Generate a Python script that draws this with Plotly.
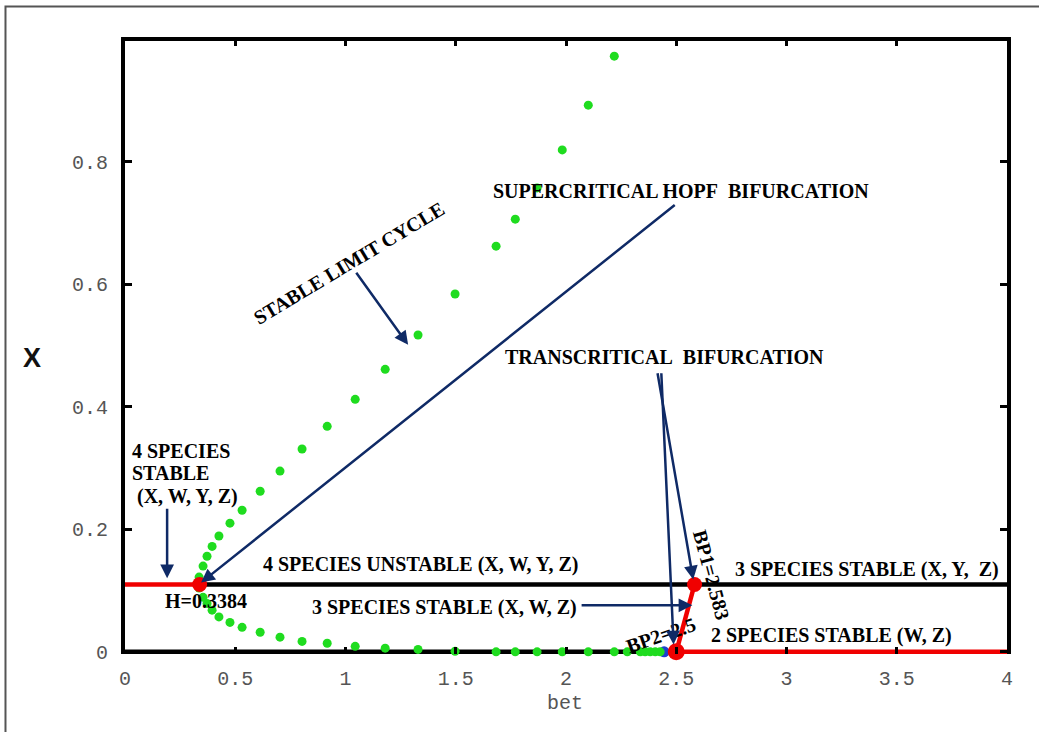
import plotly.graph_objects as go

# ---------------- data ----------------
# limit cycle (max / min of X over the cycle)
lc_bet_max = [0.336, 0.354, 0.372, 0.395, 0.426, 0.476, 0.531, 0.613, 0.703, 0.803, 0.917,
              1.044, 1.180, 1.329, 1.497, 1.683, 1.770, 1.869, 1.983, 2.101, 2.219]
lc_max = [0.122, 0.140, 0.156, 0.172, 0.189, 0.210, 0.231, 0.262, 0.295, 0.331, 0.368,
          0.412, 0.461, 0.517, 0.584, 0.662, 0.706, 0.757, 0.819, 0.892, 0.972]
lc_bet_min = lc_bet_max + [2.278, 2.337, 2.359, 2.382, 2.405, 2.427]
lc_min = [0.104, 0.089, 0.079, 0.068, 0.057, 0.048, 0.040, 0.032, 0.024, 0.017, 0.014,
          0.009, 0.006, 0.004, 0.001, 0.0, 0.0, 0.0, 0.0, 0.0, 0.0,
          0.0, 0.0, 0.0, 0.0, 0.0, 0.0]

# equilibrium branches
stable4_bet = [0.0, 0.3384]
stable4_x = [0.11, 0.11]
unstable4_bet = [0.3384, 4.0]
unstable4_x = [0.11, 0.11]
stable3_bet = [2.5, 2.583]
stable3_x = [0.0, 0.11]
zero_unstable_bet = [0.0, 2.5]
zero_unstable_x = [0.0, 0.0]
zero_stable_bet = [2.5, 4.0]
zero_stable_x = [0.0, 0.0]

# special points
H_bet, H_x = 0.3384, 0.11
BP1_bet, BP1_x = 2.583, 0.11
BP2_bet, BP2_x = 2.5, 0.0
lc_end_bet, lc_end_x = 2.445, 0.0

x_ticks = [0, 0.5, 1, 1.5, 2, 2.5, 3, 3.5, 4]
x_ticktext = ["0", "0.5", "1", "1.5", "2", "2.5", "3", "3.5", "4"]
y_ticks = [0, 0.2, 0.4, 0.6, 0.8]
y_ticktext = ["0", "0.2", "0.4", "0.6", "0.8"]

# ---------------- styles ----------------
RED = "#f00000"
GREEN = "#1fdc1f"
NAVY = "#0f2a66"
LW = 4.5
TXT = dict(family="Liberation Serif", size=20, color="black", weight="bold")
TICKFONT = dict(family="Liberation Mono", size=20, color="#555")

fig = go.Figure()

fig.add_trace(go.Scatter(x=zero_unstable_bet, y=zero_unstable_x, mode="lines",
                         line=dict(color="black", width=LW), cliponaxis=False))
fig.add_trace(go.Scatter(x=unstable4_bet, y=unstable4_x, mode="lines",
                         line=dict(color="black", width=LW)))
fig.add_trace(go.Scatter(x=stable4_bet, y=stable4_x, mode="lines",
                         line=dict(color=RED, width=LW)))
fig.add_trace(go.Scatter(x=zero_stable_bet, y=zero_stable_x, mode="lines",
                         line=dict(color=RED, width=LW)))
fig.add_trace(go.Scatter(x=stable3_bet, y=stable3_x, mode="lines",
                         line=dict(color=RED, width=LW)))

fig.add_trace(go.Scatter(x=[lc_end_bet], y=[lc_end_x], mode="markers",
                         marker=dict(color="#1c3fd0", size=11), cliponaxis=False))
fig.add_trace(go.Scatter(x=lc_bet_max, y=lc_max, mode="markers",
                         marker=dict(color=GREEN, size=9), cliponaxis=False))
fig.add_trace(go.Scatter(x=lc_bet_min, y=lc_min, mode="markers",
                         marker=dict(color=GREEN, size=9), cliponaxis=False))

fig.add_trace(go.Scatter(x=[H_bet, BP1_bet], y=[H_x, BP1_x], mode="markers",
                         marker=dict(color=RED, size=15), cliponaxis=False))
fig.add_trace(go.Scatter(x=[BP2_bet], y=[BP2_x], mode="markers",
                         marker=dict(color=RED, size=17), cliponaxis=False))

annotations = []


def label(text, x, y, xanchor="left", angle=0):
    annotations.append(dict(text=text, x=x, y=y, xref="x", yref="y", showarrow=False,
                            xanchor=xanchor, yanchor="middle", textangle=angle, font=TXT))


def arrow(x_head, y_head, x_tail, y_tail):
    annotations.append(dict(text="", x=x_head, y=y_head, ax=x_tail, ay=y_tail,
                            xref="x", yref="y", axref="x", ayref="y",
                            showarrow=True, arrowhead=2, arrowsize=1.1,
                            arrowwidth=2.5, arrowcolor=NAVY, standoff=0))


label("SUPERCRITICAL HOPF&nbsp; BIFURCATION", 1.661, 0.752)
label("TRANSCRITICAL&nbsp; BIFURCATION", 1.715, 0.481)
label("STABLE LIMIT CYCLE", 1.016, 0.634, xanchor="center", angle=-31)
label("4 SPECIES UNSTABLE (X, W, Y, Z)", 0.617, 0.142)
label("3 SPECIES STABLE (X, W, Z)", 0.839, 0.073)
label("3 SPECIES STABLE (X, Y,&nbsp; Z)", 2.759, 0.135)
label("2 SPECIES STABLE (W, Z)", 2.650, 0.027)
label("H=0.3384", 0.172, 0.083)
label("4 SPECIES", 0.023, 0.328)
label("STABLE", 0.023, 0.292)
label("(X, W, Y, Z)", 0.045, 0.253)
label("BP2=2.5", 2.432, 0.027, xanchor="center", angle=-19)
label("BP1=2.583", 2.659, 0.125, xanchor="center", angle=75)

arrow(0.345, 0.113, 2.500, 0.731)
arrow(1.284, 0.501, 1.044, 0.621)
arrow(0.191, 0.120, 0.191, 0.236)
arrow(2.577, 0.118, 2.414, 0.457)
arrow(2.488, 0.012, 2.432, 0.457)
arrow(2.573, 0.076, 2.064, 0.076)

# axis titles
annotations.append(dict(text="X", x=-0.1054, y=0.481, xref="paper", yref="paper",
                        showarrow=False, xanchor="center", yanchor="middle",
                        font=dict(family="Liberation Sans", size=27, color="#111", weight="bold")))
annotations.append(dict(text="bet", x=0.499, y=-0.0797, xref="paper", yref="paper",
                        showarrow=False, xanchor="center", yanchor="middle",
                        font=dict(family="Liberation Mono", size=20, color="#555")))

shapes = [
    # top frame line
    dict(type="line", xref="paper", yref="paper", x0=-0.0045, x1=1.0045, y0=1, y1=1,
         line=dict(color="black", width=4)),
    # outer figure border
    dict(type="rect", xref="paper", yref="paper", x0=-0.1355, x1=1.04, y0=-0.145, y1=1.0528,
         line=dict(color="#555", width=2)),
]

fig.update_layout(
    width=1039, height=732,
    margin=dict(l=125, r=32, t=39, b=78),
    paper_bgcolor="white", plot_bgcolor="white",
    showlegend=False,
    annotations=annotations,
    shapes=shapes,
    xaxis=dict(range=[0, 4], tickvals=x_ticks, ticktext=x_ticktext,
               showgrid=False, zeroline=False, showline=False,
               ticks="inside", ticklen=7, tickwidth=3, tickcolor="black", mirror="ticks",
               ticklabelstandoff=10, tickfont=TICKFONT),
    yaxis=dict(range=[-0.0035, 1.0], tickvals=y_ticks, ticktext=y_ticktext,
               showgrid=False, zeroline=False, showline=True, linewidth=4,
               linecolor="black", mirror="ticks",
               ticks="inside", ticklen=7, tickwidth=3, tickcolor="black",
               ticklabelstandoff=9, tickfont=TICKFONT),
)

fig.write_html("out.html", config={"displayModeBar": False},
               post_script="document.body.style.margin='0';document.body.style.overflow='hidden';")
